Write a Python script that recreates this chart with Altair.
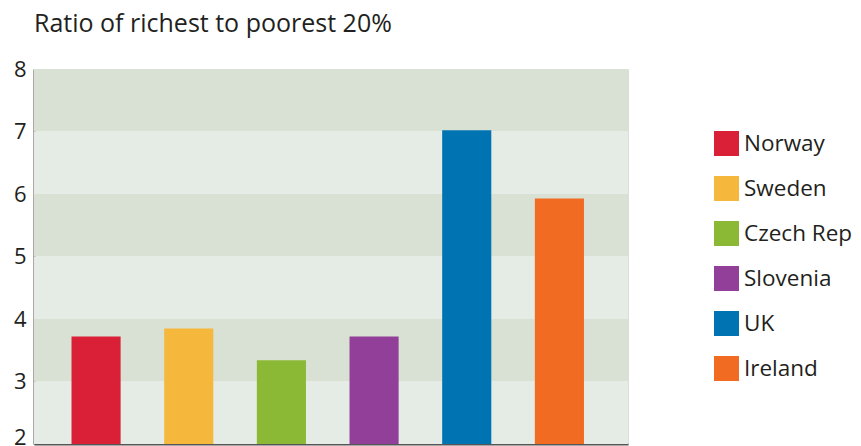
import altair as alt
import pandas as pd

countries = ["Norway", "Sweden", "Czech Rep", "Slovenia", "UK", "Ireland"]
ratios = [3.72, 3.85, 3.34, 3.72, 7.02, 5.93]
colors = ["#da2037", "#f5b83d", "#8cb935", "#913f98", "#0073b3", "#f26b22"]

band_lo = [2, 3, 4, 5, 6, 7]
band_hi = [3, 4, 5, 6, 7, 8]
band_col = ["#e5ece5", "#d9e1d5", "#e5ece5", "#d9e1d5", "#e5ece5", "#d9e1d5"]

FONT = "Open Sans"
TXT = "#231f20"

bars_df = pd.DataFrame({"country": countries, "ratio": ratios})
bands_df = pd.DataFrame({"lo": band_lo, "hi": band_hi, "col": band_col})

yscale = alt.Scale(domain=[2, 8], nice=False, zero=False)

bands = alt.Chart(bands_df).mark_rect().encode(
    x=alt.value(0),
    x2=alt.value(594),
    y=alt.Y("lo:Q", scale=yscale,
            axis=alt.Axis(values=[2, 3, 4, 5, 6, 7, 8], format="d", ticks=False, grid=False,
                          domain=True, domainColor="#555555", domainWidth=2,
                          labelFont=FONT, labelFontSize=22, labelColor=TXT,
                          labelBaseline={"condition": {"test": "datum.value == 2",
                                                       "value": "alphabetic"},
                                         "value": "middle"},
                          labelPadding=8, title=None)),
    y2="hi:Q",
    color=alt.Color("col:N", scale=None),
)

bars = alt.Chart(bars_df).mark_bar().encode(
    x=alt.X("country:N", sort=countries,
            scale=alt.Scale(paddingInner=0.47, paddingOuter=0.44, align=0.46),
            axis=alt.Axis(labels=False, ticks=False, title=None, domain=True,
                          domainColor="#555555", domainWidth=2)),
    y=alt.Y("ratio:Q", scale=yscale),
    y2=alt.datum(2),
    color=alt.Color("country:N", sort=countries,
                    scale=alt.Scale(domain=countries, range=colors),
                    legend=alt.Legend(title=None, orient="none", legendX=680, legendY=62,
                                      symbolType="square", symbolSize=625,
                                      symbolStrokeWidth=0, symbolOpacity=1,
                                      labelFont=FONT, labelFontSize=22.5, labelColor=TXT,
                                      labelOffset=5, rowPadding=20, padding=0,
                                      labelLimit=200)),
)

chart = alt.layer(bands, bars).properties(
    width=594,
    height=375,
    autosize=alt.AutoSizeParams(type="none"),
    padding={"left": 26, "top": 61, "right": 225, "bottom": 6},
    title=alt.TitleParams("Ratio of richest to poorest 20%", anchor="start", frame="group",
                          font=FONT, fontSize=25, fontWeight="normal", color=TXT,
                          offset=21),
).configure_view(stroke=None).configure(background="white")

chart.save("out.html", embed_options={"renderer": "svg", "actions": False})
